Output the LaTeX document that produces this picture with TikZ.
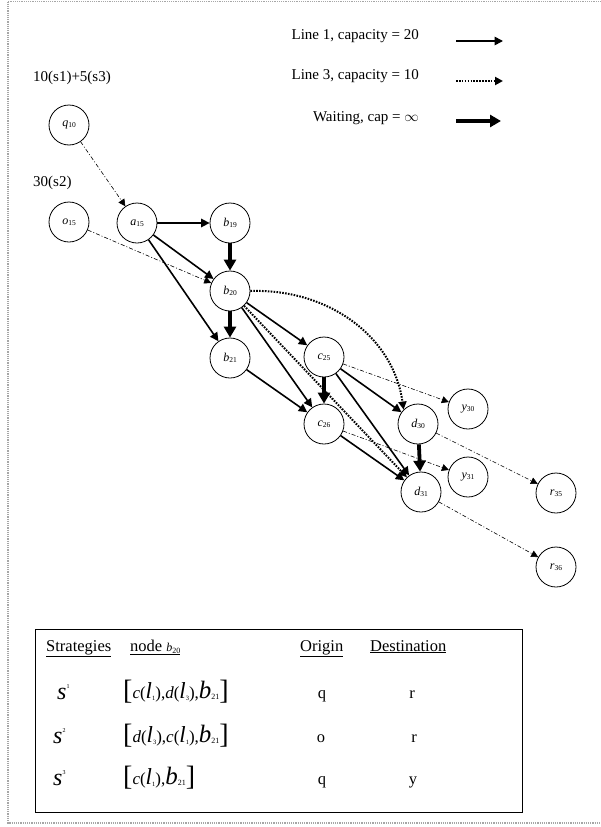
\documentclass[tikz,border=0pt]{standalone}
\usepackage{fontspec}
\setmainfont{Liberation Serif}
\usetikzlibrary{arrows.meta}

% node label: italic letter with a small index
\newcommand\nlab[2]{{\itshape #1}\raisebox{-0.8pt}{\fontsize{7.5}{7.5}\selectfont #2}}
% table symbols
\newcommand\strat[1]{{\fontsize{24}{24}\selectfont\itshape s}\raisebox{11pt}{\fontsize{6}{6}\selectfont #1}}
\newcommand\lsym[1]{{\fontsize{23}{23}\selectfont\itshape l}\raisebox{-2pt}{\fontsize{6.5}{6.5}\selectfont #1}}
\newcommand\bsym{{\fontsize{25}{25}\selectfont\itshape b}\raisebox{-1pt}{\fontsize{8}{8}\selectfont 21}}
\newcommand\sq[1]{{\fontsize{28}{28}\selectfont\raisebox{-1.5pt}{[}}{\fontsize{17}{17}\selectfont #1}{\fontsize{28}{28}\selectfont\raisebox{-1.5pt}{]}}}
\newcommand\cl[1]{{\itshape c}(#1)}
\newcommand\dl[1]{{\itshape d}(#1)}

\begin{document}
\begin{tikzpicture}[x=1pt,y=-1pt,
  nd/.style={circle,draw,line width=0.8pt,minimum size=40pt,inner sep=0pt,font=\fontsize{12}{12}\selectfont},
  lineone/.style={line width=1.6pt,-{Triangle[length=8.5pt,width=8.5pt]}},
  linethree/.style={line width=2pt,dash pattern=on 1.6pt off 1.3pt,-{Triangle[length=8pt,width=8pt]}},
  waitarc/.style={line width=3.8pt,-{Triangle[length=11pt,width=12pt]}},
  walk/.style={line width=0.6pt,dash pattern=on 4pt off 2pt on 1pt off 2pt,-{Triangle[length=7pt,width=7pt]}},
  lgd/.style={font=\fontsize{15}{15}\selectfont,inner sep=0pt},
  tb/.style={font=\fontsize{16.5}{16.5}\selectfont,inner sep=0pt}]
\useasboundingbox (0,0) rectangle (600,827);

% outer frame
\draw[gray!70,line width=1.3pt,dash pattern=on 1.2pt off 1pt] (8,1.5) rectangle (604,823);

% legend
\node[lgd,anchor=east] (t1) at (419,36) {Line 1, capacity = 20};
\node[lgd,anchor=east] (t3) at (419,76) {Line 3, capacity = 10};
\node[lgd,anchor=east] (tw) at (419,118) {Waiting, cap = $\infty$};
\coordinate (l1s) at (456,41); \coordinate (l1e) at (503,41);
\coordinate (l3s) at (456,81); \coordinate (l3e) at (503,81);
\coordinate (lws) at (456,121); \coordinate (lwe) at (501,121);
\draw[lineone] (l1s) -- (l1e);
\draw[linethree] (l3s) -- (l3e);
\draw[waitarc] (lws) -- (lwe);

% demand labels
\node[lgd,anchor=west] (dq) at (33,78) {10(s1)+5(s3)};
\node[lgd,anchor=west] (do) at (33,183) {30(s2)};

% nodes of the time-expanded network
\node[nd] (q10) at (69,125) {\nlab{q}{10}};
\node[nd] (o15) at (69,222) {\nlab{o}{15}};
\node[nd] (a15) at (137,223) {\nlab{a}{15}};
\node[nd] (b19) at (230,223) {\nlab{b}{19}};
\node[nd] (b20) at (230,291) {\nlab{b}{20}};
\node[nd] (b21) at (230,358) {\nlab{b}{21}};
\node[nd] (c25) at (324,357) {\nlab{c}{25}};
\node[nd] (c26) at (324,424) {\nlab{c}{26}};
\node[nd] (d30) at (418,424) {\nlab{d}{30}};
\node[nd] (d31) at (421,492) {\nlab{d}{31}};
\node[nd] (y30) at (468,409) {\nlab{y}{30}};
\node[nd] (y31) at (468,477) {\nlab{y}{31}};
\node[nd] (r35) at (556,493) {\nlab{r}{35}};
\node[nd] (r36) at (556,567) {\nlab{r}{36}};

% line 1 arcs
\draw[lineone] (a15) -- (b19);
\draw[lineone] (a15) -- (b20);
\draw[lineone] (a15) -- (b21);
\draw[lineone] (b20) -- (c25);
\draw[lineone] (b20) -- (c26);
\draw[lineone] (b21) -- (c26);
\draw[lineone] (c25) -- (d30);
\draw[lineone] (c25) -- (d31);
\draw[lineone] (c26) -- (d31);

% line 3 arcs
\draw[linethree] (b20.east) to[out=2,in=98] (d30.north west);
\draw[linethree] (b20) -- (d31);

% waiting arcs
\draw[waitarc] (b19) -- (b20);
\draw[waitarc] (b20) -- (b21);
\draw[waitarc] (c25) -- (c26);
\draw[waitarc] (d30) -- (d31);

% access and egress walks
\draw[walk] (q10) -- (a15);
\draw[walk] (o15) -- (b20);
\draw[walk] (c25) -- (y30);
\draw[walk] (c26) -- (y31);
\draw[walk] (d30) -- (r35);
\draw[walk] (d31) -- (r36);

% strategy table
\node[draw,line width=0.9pt,minimum width=487pt,minimum height=183pt,anchor=north west,inner sep=0pt] (tbl) at (35,629) {};
\node[tb,anchor=base west] (h1) at (46,651) {\underline{Strategies}};
\node[tb,anchor=base west] (h2) at (130,651) {\underline{node {\fontsize{12}{12}\selectfont\itshape b}\raisebox{-2pt}{\fontsize{8}{8}\selectfont 20}}};
\node[tb,anchor=base west] (h3) at (300,651) {\underline{Origin}};
\node[tb,anchor=base west] (h4) at (370,651) {\underline{Destination}};

\node[tb,anchor=base west] (s1) at (57,699) {\strat{1}};
\node[tb,anchor=base west] (s2) at (53,743) {\strat{2}};
\node[tb,anchor=base west] (s3) at (53,785) {\strat{3}};

\node[tb,anchor=base west] (p1) at (123,698) {\sq{\cl{\lsym{1}},\dl{\lsym{3}},\bsym}};
\node[tb,anchor=base west] (p2) at (123,742) {\sq{\dl{\lsym{3}},\cl{\lsym{1}},\bsym}};
\node[tb,anchor=base west] (p3) at (123,784) {\sq{\cl{\lsym{1}},\bsym}};

\node[tb,anchor=base] (o1) at (322,698) {q};
\node[tb,anchor=base] (o2) at (321,742) {o};
\node[tb,anchor=base] (o3) at (322,784) {q};
\node[tb,anchor=base] (e1) at (412,698) {r};
\node[tb,anchor=base] (e2) at (414,742) {r};
\node[tb,anchor=base] (e3) at (413,784) {y};
\end{tikzpicture}
\end{document}
